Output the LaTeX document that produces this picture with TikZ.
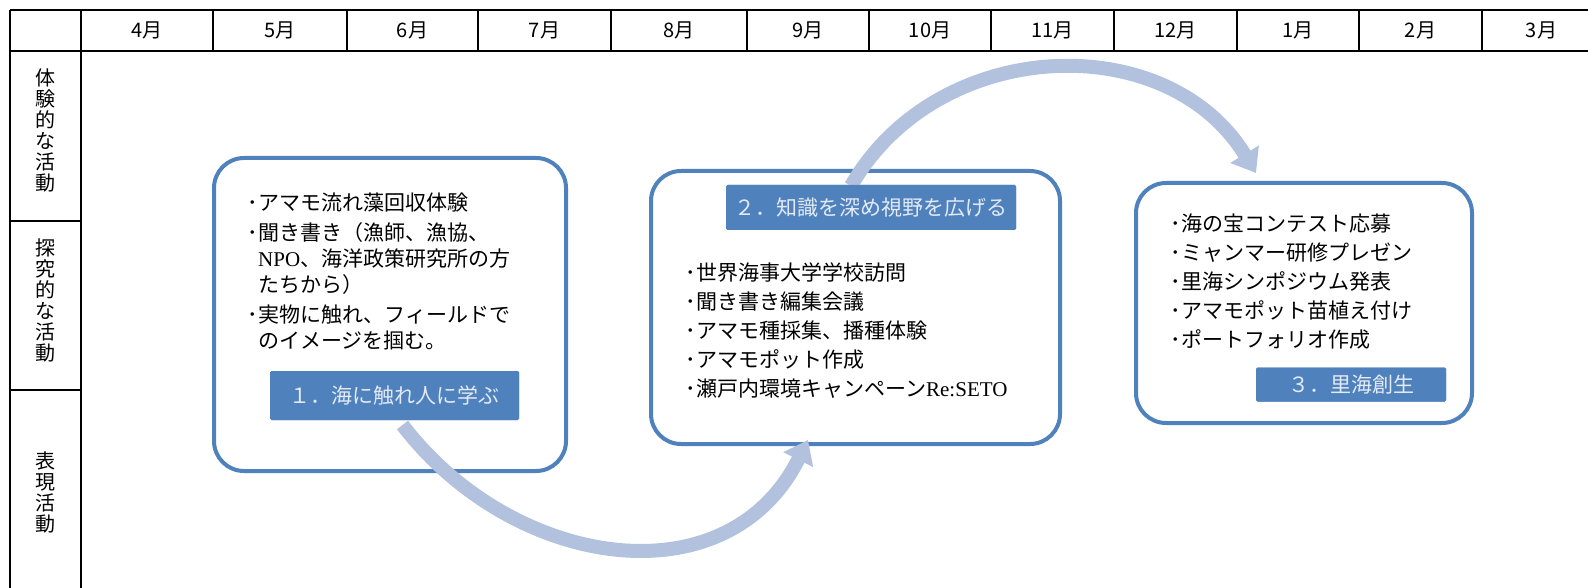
\documentclass[tikz,border=0pt]{standalone}
\usepackage{fontspec}
\setmainfont{Liberation Serif}
\newfontfamily\jp{Noto Sans CJK JP}
\usetikzlibrary{arrows.meta}
\definecolor{boxblue}{HTML}{4F81BD}
\definecolor{arrowblue}{HTML}{B2C2DE}
\definecolor{labtext}{HTML}{E4EAF4}
\newcommand\itemdot{\makebox[10pt][c]{･}}
\newcommand\hang{\hspace*{10pt}}
\begin{document}
\begin{tikzpicture}[x=1pt,y=-1pt,
  grid/.style={line width=2pt, draw=black},
  month/.style={font=\jp\fontsize{20}{20}\selectfont, inner sep=0},
  rowlab/.style={font=\jp\fontsize{20}{21}\selectfont, align=center, inner sep=0},
  panel/.style={draw=boxblue, line width=4pt, rounded corners=30pt, inner sep=0, outer sep=0},
  tag/.style={fill=boxblue, text=labtext, font=\jp\fontsize{21}{21}\selectfont, inner sep=0, outer sep=0, rounded corners=1.5pt},
  items/.style={font=\jp\fontsize{21}{26}\selectfont, align=left, anchor=north west, inner sep=0},
  flow/.style={draw=arrowblue, line width=14pt, -{Triangle[width=32pt,length=22pt]}}
]
\useasboundingbox (0,0) rectangle (1588,588);
\fill[white] (0,0) rectangle (1588,588);

% table
\draw[grid] (9.5,10) -- (1588,10);
\draw[grid] (9.5,51) -- (1588,51);
\draw[grid] (9.5,10) -- (9.5,588);
\draw[grid] (81,10) -- (81,588);
\foreach \x in {213,347,478,611,747,869,991,1114,1237,1359,1482}
  \draw[grid] (\x,10) -- (\x,51);
\draw[grid] (9.5,221) -- (81,221);
\draw[grid] (9.5,390) -- (81,390);

% months
\node[month] (m4) at (147,30.5) {4月};
\node[month] (m5) at (280,30.5) {5月};
\node[month] (m6) at (412.5,30.5) {6月};
\node[month] (m7) at (544.5,30.5) {7月};
\node[month] (m8) at (679,30.5) {8月};
\node[month] (m9) at (808,30.5) {9月};
\node[month] (m10) at (930,30.5) {10月};
\node[month] (m11) at (1052.5,30.5) {11月};
\node[month] (m12) at (1175.5,30.5) {12月};
\node[month] (m1) at (1298,30.5) {1月};
\node[month] (m2) at (1420.5,30.5) {2月};
\node[month] (m3) at (1541.5,30.5) {3月};

% row labels
\node[rowlab] (r1) at (45,130) {体\\験\\的\\な\\活\\動};
\node[rowlab] (r2) at (45,300) {探\\究\\的\\な\\活\\動};
\node[rowlab] (r3) at (45,492) {表\\現\\活\\動};

% panels
\node[panel, minimum width=352pt, minimum height=313pt] (box1) at (390,314.5) {};
\node[panel, minimum width=409pt, minimum height=273pt] (box2) at (855.5,307.5) {};
\node[panel, minimum width=336pt, minimum height=240pt] (box3) at (1304,303) {};

% label positions (needed for arrow anchors)
\path (394.5,395.5) node[tag, minimum width=249pt, minimum height=49pt] (lab1) {１．海に触れ人に学ぶ};
\path (871,207.5) node[tag, minimum width=290pt, minimum height=45pt] (lab2) {２．知識を深め視野を広げる};
\path (1351,384.5) node[tag, minimum width=190pt, minimum height=34pt] (lab3) {３．里海創生};

% arrows
\coordinate (a1s) at ([xshift=8pt,yshift=-5pt]lab1.south);
\coordinate (a1e) at ([xshift=-47.5pt,yshift=4pt]box2.south);
\coordinate (a2s) at ([xshift=-20pt,yshift=-1pt]lab2.north);
\coordinate (a2e) at ([xshift=-48pt,yshift=10pt]box3.north);
\draw[flow] (a1s) .. controls +(110,144) and +(-81,162) .. (a1e);
\draw[flow] (a2s) .. controls +(86,-150) and +(-89,-146) .. (a2e);

% labels redrawn on top of arrows
\node[tag, minimum width=249pt, minimum height=49pt] at (lab1.center) {１．海に触れ人に学ぶ};
\node[tag, minimum width=290pt, minimum height=45pt] at (lab2.center) {２．知識を深め視野を広げる};
\node[tag, minimum width=190pt, minimum height=34pt] at (lab3.center) {３．里海創生};

% texts
\node[items] (t1) at (248,192.5) {\itemdot アマモ流れ藻回収体験\\[4pt]
\itemdot 聞き書き（漁師、漁協、\\
\hang{\rmfamily NPO}、海洋政策研究所の方\\
\hang たちから）\\[4pt]
\itemdot 実物に触れ、フィールドで\\
\hang のイメージを掴む。};

\node[items, font=\jp\fontsize{21}{29}\selectfont] (t2) at (686,262.5) {\itemdot 世界海事大学学校訪問\\
\itemdot 聞き書き編集会議\\
\itemdot アマモ種採集、播種体験\\
\itemdot アマモポット作成\\
\itemdot 瀬戸内環境キャンペーン{\rmfamily Re:SETO}};

\node[items, font=\jp\fontsize{21}{29}\selectfont] (t3) at (1171,213.5) {\itemdot 海の宝コンテスト応募\\
\itemdot ミャンマー研修プレゼン\\
\itemdot 里海シンポジウム発表\\
\itemdot アマモポット苗植え付け\\
\itemdot ポートフォリオ作成};
\end{tikzpicture}
\end{document}
